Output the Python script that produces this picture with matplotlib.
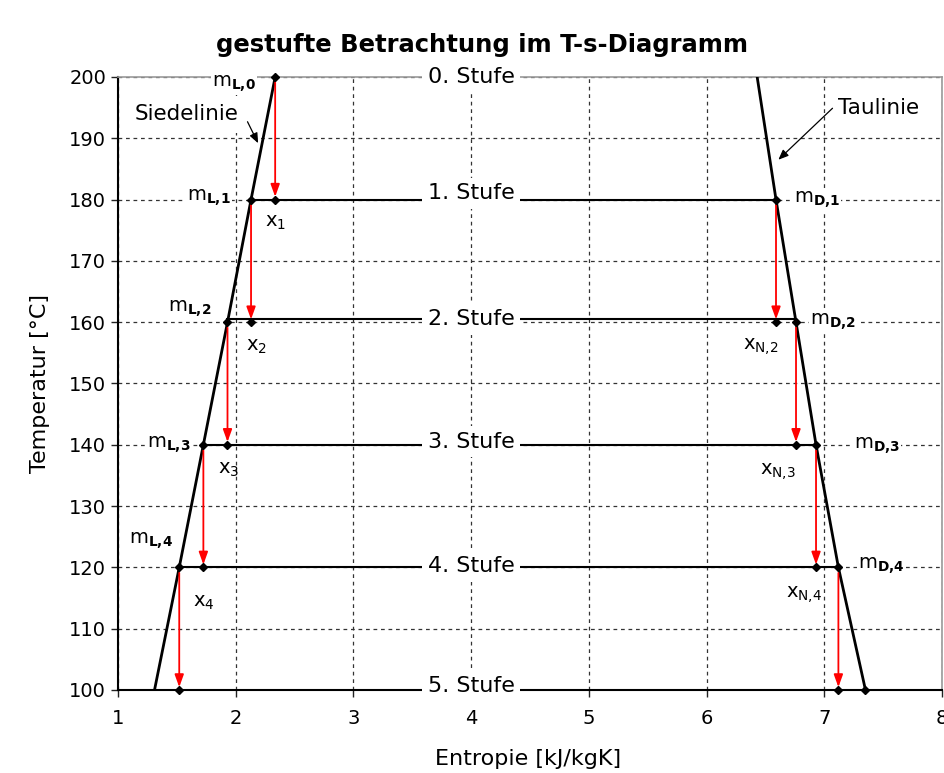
import matplotlib
matplotlib.use('Agg')
import matplotlib.pyplot as plt

# ---------------- data ----------------
T_levels = [200, 180, 160, 140, 120, 100]            # Stufen-Temperaturen [°C]
s_siede = [2.335, 2.13, 1.93, 1.725, 1.52, 1.31]     # Siedelinie s [kJ/kgK]
s_tau = [6.43, 6.59, 6.76, 6.93, 7.12, 7.35]         # Taulinie s [kJ/kgK]
stufe_names = ["0. Stufe", "1. Stufe", "2. Stufe", "3. Stufe", "4. Stufe", "5. Stufe"]
mL_names = ["m$_{\\mathbf{L{,}0}}$", "m$_{\\mathbf{L{,}1}}$", "m$_{\\mathbf{L{,}2}}$",
            "m$_{\\mathbf{L{,}3}}$", "m$_{\\mathbf{L{,}4}}$"]
x_names = ["x$_{1}$", "x$_{2}$", "x$_{3}$", "x$_{4}$"]
mD_names = ["m$_{\\mathbf{D{,}1}}$", "m$_{\\mathbf{D{,}2}}$", "m$_{\\mathbf{D{,}3}}$",
            "m$_{\\mathbf{D{,}4}}$"]
xN_names = ["x$_{\\mathrm{N{,}2}}$", "x$_{\\mathrm{N{,}3}}$", "x$_{\\mathrm{N{,}4}}$"]
x_ticks = [1, 2, 3, 4, 5, 6, 7, 8]
y_ticks = [100, 110, 120, 130, 140, 150, 160, 170, 180, 190, 200]

# ---------------- layout ----------------
stufe_text_T = [200, 181, 160.5, 140.5, 120.2, 100.6]
stufe_line_off = [0, 0, 0.5, 0, 0, 0]
mL_pos = [(2.17, 198.9), (1.96, 180.3), (1.79, 162.2), (1.62, 140.0), (1.47, 124.3)]
x_pos = [(2.25, 176.2), (2.09, 156.0), (1.85, 135.9), (1.64, 114.2)]
mD_pos = [(6.74, 179.9), (6.88, 160.0), (7.25, 139.8), (7.29, 120.2)]
xN_pos = [(6.46, 156.1), (6.61, 135.7), (6.83, 115.5)]

fs = 14
fig = plt.figure(figsize=(9.45, 7.73), dpi=100)
ax = fig.add_axes([0.1249, 0.1074, 0.9968 - 0.1249, 0.9004 - 0.1074])
ax.set_xlim(1, 8)
ax.set_ylim(100, 200)
ax.set_xticks(x_ticks)
ax.set_yticks(y_ticks)
ax.tick_params(labelsize=fs, length=5, width=1, direction='out', colors='#222222',
               labelcolor='black')
ax.tick_params(axis='x', pad=9)
ax.grid(True, color='#333333', linestyle=(0, (3, 3)), linewidth=0.9)
ax.set_axisbelow(True)
for side in ['left', 'bottom']:
    ax.spines[side].set_color('black')
    ax.spines[side].set_linewidth(1.5)
for side in ['top', 'right']:
    ax.spines[side].set_color('#9a9a9a')
    ax.spines[side].set_linewidth(1.2)

ax.set_xlabel("Entropie [kJ/kgK]", fontsize=16)
ax.set_ylabel("Temperatur [°C]", fontsize=16)
ax.xaxis.set_label_coords(0.4976, -0.097)
ax.yaxis.set_label_coords(-0.083, 0.5)
fig.text(0.51, 0.942, "gestufte Betrachtung im T-s-Diagramm", fontsize=17.5,
         fontweight='bold', ha='center', va='center')

# Siede- und Taulinie
ax.plot(s_siede, T_levels, color='black', lw=2, zorder=4)
ax.plot(s_tau, T_levels, color='black', lw=2, zorder=4)

# Stufenlinien
for i in range(1, 5):
    T = T_levels[i] + stufe_line_off[i]
    ax.plot([s_siede[i], s_tau[i]], [T, T], color='black', lw=1.5, zorder=3)

bbox = dict(facecolor='white', edgecolor='none', pad=4)
for name, T in zip(stufe_names, stufe_text_T):
    ax.text(4.0, T, name, fontsize=16, ha='center', va='center', bbox=bbox, zorder=6,
            clip_on=False)

arrow_red = dict(arrowstyle='-|>,head_length=0.75,head_width=0.27', color='red',
                 lw=1.3, shrinkA=4, shrinkB=2, mutation_scale=10)
# Rote Pfeile (links)
for i in range(5):
    ax.annotate("", xy=(s_siede[i], T_levels[i + 1]), xytext=(s_siede[i], T_levels[i]),
                arrowprops=arrow_red, zorder=5, annotation_clip=False)
# Rote Pfeile (rechts)
for i in range(1, 5):
    ax.annotate("", xy=(s_tau[i], T_levels[i + 1]), xytext=(s_tau[i], T_levels[i]),
                arrowprops=arrow_red, zorder=5)

# Punkte
mk = dict(marker='D', color='black', markersize=4, linestyle='none', zorder=7, clip_on=False)
ax.plot(s_siede[:5], T_levels[:5], **mk)
ax.plot(s_siede[:5], T_levels[1:], **mk)
ax.plot(s_tau[1:], T_levels[1:], **mk)
ax.plot(s_tau[1:5], T_levels[2:], **mk)

# Beschriftungen
lb = dict(facecolor='white', edgecolor='none', pad=1)
for name, (s, T) in zip(mL_names, mL_pos):
    ax.text(s, T, name, fontsize=fs, ha='right', va='center', bbox=lb, zorder=6)
for name, (s, T) in zip(x_names, x_pos):
    ax.text(s, T, name, fontsize=fs, ha='left', va='center', zorder=6)
for name, (s, T) in zip(mD_names, mD_pos):
    ax.text(s, T, name, fontsize=fs, ha='left', va='center', bbox=lb, zorder=6)
for name, (s, T) in zip(xN_names, xN_pos):
    ax.text(s, T, name, fontsize=fs, ha='center', va='center', zorder=6)

ax.text(1.58, 193.9, "Siedelinie", fontsize=15.5, ha='center', va='center', zorder=6,
        bbox=dict(facecolor='white', edgecolor='none', pad=6))
ax.text(7.12, 194.9, "Taulinie", fontsize=15.5, ha='left', va='center', zorder=6)
arrow_blk = dict(arrowstyle='-|>,head_length=0.6,head_width=0.25', color='black',
                 lw=0.9, mutation_scale=10, shrinkA=0, shrinkB=0)
ax.annotate("", xy=(2.19, 189.2), xytext=(2.10, 192.7), arrowprops=arrow_blk, zorder=6)
ax.annotate("", xy=(6.61, 186.5), xytext=(7.07, 194.9), arrowprops=arrow_blk, zorder=6)

fig.savefig("out.png", dpi=100)
